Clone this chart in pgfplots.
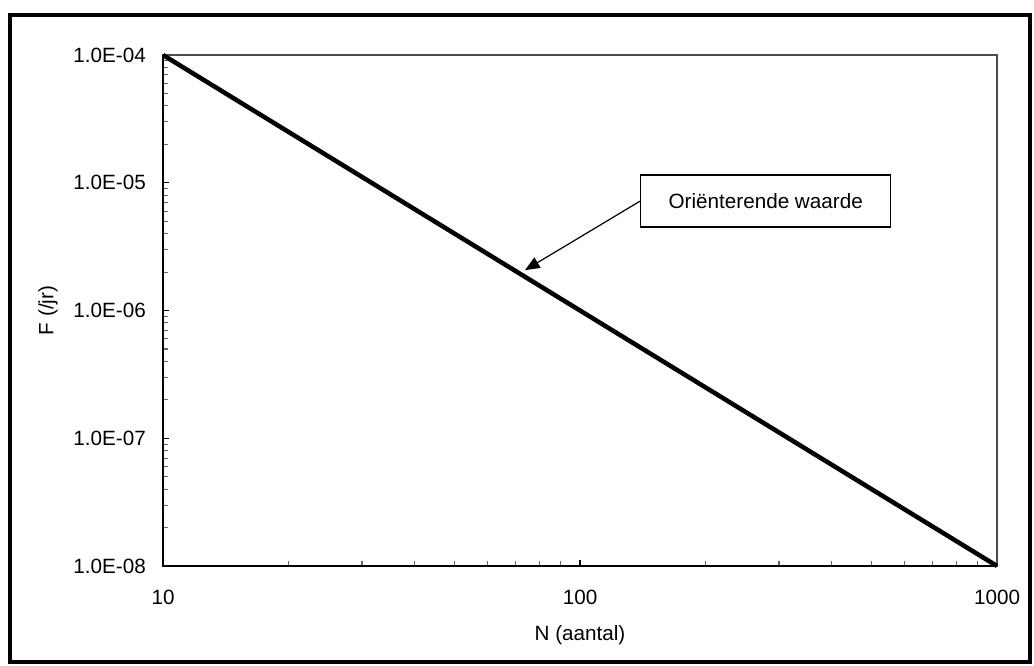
\documentclass[border=0pt]{standalone}
\usepackage{fontspec}
\setmainfont{Liberation Sans}
\usepackage{pgfplots}
\pgfplotsset{compat=1.18}
\usetikzlibrary{arrows.meta}

\begin{document}
\fontsize{15.5}{18}\selectfont
\begin{tikzpicture}
\begin{axis}[
  scale only axis,
  width=625.5pt,height=383.25pt,
  xmode=log,ymode=log,
  xmin=10,xmax=1000,ymin=1e-8,ymax=1e-4,
  xtick={10,100,1000},xticklabels={10,100,1000},
  ytick={1e-8,1e-7,1e-6,1e-5,1e-4},
  yticklabels={1.0E-08,1.0E-07,1.0E-06,1.0E-05,1.0E-04},
  xtick pos=bottom,ytick pos=left,
  tick align=inside,
  major tick length=4.5pt,minor tick length=4pt,
  every tick/.style={black,line width=0.8pt},
  minor tick style={black!60,line width=0.8pt},
  axis line style={black!70,line width=0.8pt},
  xticklabel style={font=\fontsize{15.5}{18}\selectfont,anchor=base,yshift=-28.5pt},
  yticklabel style={font=\fontsize{15.5}{18}\selectfont,anchor=east,xshift=-7.5pt},
  xlabel={N (aantal)},ylabel={F (/jr)},
  xlabel style={font=\fontsize{15.5}{18}\selectfont,at={(axis description cs:0.5,0)},anchor=center,yshift=-51.75pt},
  ylabel style={font=\fontsize{15.5}{18}\selectfont,at={(axis description cs:0,0.5)},anchor=center,yshift=86.25pt},
  clip=false,
]
  \addplot[black,line width=3.4pt] coordinates {(10,1e-4) (100,1e-6) (1000,1e-8)};
  \draw[black,line width=1.5pt] (rel axis cs:0,1) -- (rel axis cs:0,0) -- (rel axis cs:1,0);
  \node[draw=black,line width=1pt,fill=white,minimum width=187.5pt,minimum height=39pt,anchor=west,
    font=\fontsize{15.5}{18}\selectfont] (lab) at (rel axis cs:0.572,0.714) {Oriënterende waarde};
  \draw[black,line width=0.9pt,-{Triangle[length=11pt,width=9pt]}] (lab.west) -- (rel axis cs:0.434,0.579);
\end{axis}
\draw[black,line width=2.5pt] ([shift={(-114.75pt,-72pt)}]current axis.south west) rectangle ([shift={(24.75pt,30pt)}]current axis.north east);
\pgfresetboundingbox
\path ([shift={(-122.25pt,-75pt)}]current axis.south west) rectangle ([shift={(27.75pt,41.25pt)}]current axis.north east);
\end{tikzpicture}
\end{document}
